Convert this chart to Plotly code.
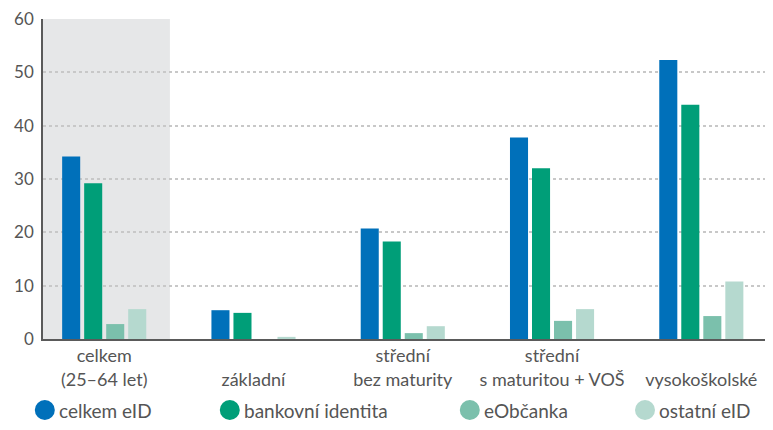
import plotly.graph_objects as go

categories = ["celkem<br>(25–64 let)", " <br>základní", "střední<br>bez maturity",
              "střední<br>s maturitou + VOŠ", " <br>vysokoškolské"]
series_names = ["celkem eID", "bankovní identita", "eObčanka", "ostatní eID"]
celkem_eid = [34.2, 5.4, 20.7, 37.8, 52.3]
bankovni_identita = [29.2, 4.9, 18.3, 32.0, 43.9]
eobcanka = [2.8, 0.0, 1.1, 3.4, 4.3]
ostatni_eid = [5.6, 0.4, 2.4, 5.6, 10.8]
y_ticks = [0, 10, 20, 30, 40, 50, 60]

colors = ["#0070BA", "#009E78", "#7BC0AC", "#B5D9CF"]
values = [celkem_eid, bankovni_identita, eobcanka, ostatni_eid]
x_idx = list(range(len(categories)))

fig = go.Figure()
for name, vals, col in zip(series_names, values, colors):
    fig.add_trace(go.Bar(x=x_idx, y=vals, name=name, marker_color=col,
                         marker_line_width=0, showlegend=False))

x_min, x_max = -0.41, 4.44
# grey highlight behind the "celkem" group
fig.add_shape(type="rect", xref="x", yref="y", x0=x_min, x1=0.44, y0=0, y1=60,
              fillcolor="#E6E7E8", line_width=0, layer="below")

# hand-made legend with round symbols below the chart
legend_x = [0.0025, 0.258, 0.5895, 0.8315]  # paper x of the circle centres
legend_y = -0.222
for name, col, lx in zip(series_names, colors, legend_x):
    fig.add_shape(type="circle", xref="paper", yref="paper",
                  xsizemode="pixel", ysizemode="pixel",
                  xanchor=lx, yanchor=legend_y, x0=-10, x1=10, y0=-10, y1=10,
                  fillcolor=col, line_width=0)
    fig.add_annotation(x=lx, y=legend_y, xref="paper", yref="paper",
                       text=name, showarrow=False, xanchor="left", yanchor="middle",
                       xshift=12, font=dict(size=19, color="#555555"))

# page body has an 8px margin, so the figure is 8px smaller than the window
fig.update_layout(
    width=765, height=422,
    margin=dict(l=35, r=6, t=11, b=91),
    barmode="group", bargap=0.41, bargroupgap=0.18,
    plot_bgcolor="white", paper_bgcolor="white",
    font=dict(family="Lato", size=18, color="#555555"),
    showlegend=False,
    xaxis=dict(tickmode="array", tickvals=x_idx, ticktext=categories,
               range=[x_min, x_max], showgrid=False, showline=True,
               linecolor="#5a5a5a", linewidth=1.5, ticks="", zeroline=False,
               automargin=False, tickfont=dict(size=18)),
    yaxis=dict(range=[0, 60], tickvals=y_ticks, showgrid=True,
               gridcolor="#C8C8C8", griddash="dot", gridwidth=1.5,
               showline=True, linecolor="#5a5a5a", linewidth=1.5,
               zeroline=False, ticks="", ticklabelstandoff=4,
               ticklabeloverflow="allow",
               automargin=False, tickfont=dict(size=17)),
)

fig.write_html("out.html")
